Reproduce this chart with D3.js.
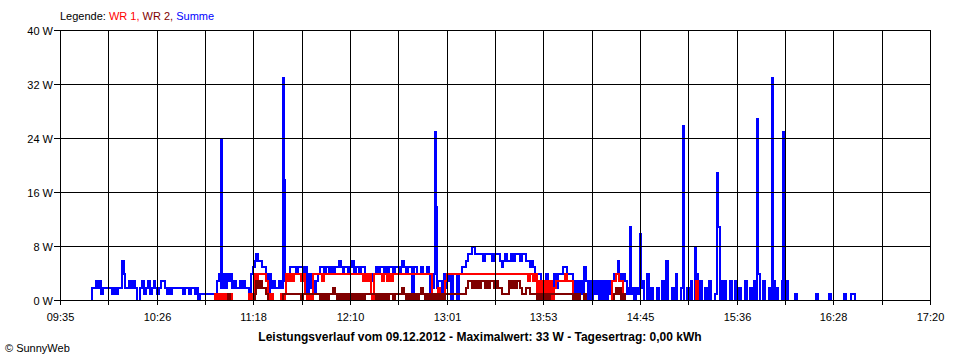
<!DOCTYPE html>
<html><head><meta charset="utf-8">
<script src="https://cdn.jsdelivr.net/npm/d3@7"></script>
<style>
body{margin:0;background:#fff;}
text{font-family:"Liberation Sans",Arial,sans-serif;}
</style>
</head><body>
<svg id="chart" width="960" height="360"></svg>
<script>
// ---------- data ----------
const dayStart = "09:35", dayEnd = "17:20";
const yTicks = [0, 8, 16, 24, 32, 40];
const yTickLabels = ["0 W", "8 W", "16 W", "24 W", "32 W", "40 W"];
const xTickLabels = ["09:35","10:26","11:18","12:10","13:01","13:53","14:45","15:36","16:28","17:20"];
const xGridDivisions = 18;

const legendParts = [
  {text: "Legende: ", color: "#000000"},
  {text: "WR 1, ", color: "#ff0000"},
  {text: "WR 2, ", color: "#800000"},
  {text: "Summe", color: "#0000ff"}
];
const titleText = "Leistungsverlauf vom 09.12.2012 - Maximalwert: 33 W - Tagesertrag: 0,00 kWh";
const copyrightText = "\u00A9 SunnyWeb";

// Summe (W), one value per minute starting at sumStart
const sumStart = "09:51";
const sumValues = [0,
  2,2,3,2,3,1, 2,2,2,2,2, 1,2,1,2,2, 6,4, 2,2,3,2,3,2, 0,0,
  2,3,1,2,3,1,2,3,2,1, 2,3,3,2,1,2,1,2,2,2,
  2,2,2,1,2,2,1,2,2,1,2, 0,
  1,1,1,1,1,1,1,1,1,
  3,4,2,4,2,4,3,4,2,3,2,2,3,2,3,2,2,
  0,4,5,6,7,6,6,5,5,4,0,4,2,3,2,2,3,2,2,3,
  3,4,5,5,5,4,5,5,5,4,5,1,4,2,3,1,3,4,5,
  5,4,5,5,4,5,4,5,5,6,5,4,5,5,4,5,6,4,5,5,4,5,5,4,
  4,3,4,3,4,
  5,4,5,5,4,5,4,5,5,4,5,5,4,
  5,6,5,4,5,
  5,0,5,5,4,4,5,4,4,5,4,0,
  2,4,2,3,3,1,4,2,3,4,0,4,4,0,4,4,
  5,5,6,7,7,8,8,7,
  7,7,7,6,7,7,7,7,6,7,7,7,
  6,5,6,7,6,6,7,6,
  7,7,7,6,7,7,6,6,5,6,
  5,4,4,4,
  0,3,1,4,0,3,0,4,2,
  4,4,4,5,5,4,4,4,
  3,0,3,0,3,1,
  5,
  3,0,3,0,3,1,3,0,3,0,3,0,3,1,
  3,4,4,6,4,3,4,3,1,
  2,
  1,2,0,2,1,
  2,
  3,0,0,4,0,2,0,0,2,0,
  0,3,0,6,0,0,2,0,4,0,
  0,2,0,0,2,0,3,0,0,4,
  0,3,0,0,2,0,3,0,0,1,
  0,0,3,0,3,0,0,3,0,0,
  3,0,2,0,0,3,0,0,2,0,
  3,0,4,0,0,3,0,0,2,0,
  3,0,2,0,0,3,0,3,0,0,
  0,0,1,0,0,0,0,0,0,0,
  0,0,0,1,0,0,0,0,0,0,
  1,0,0,0,0,0,0,0,1,0,
  0,0,1,1,0
];
// short peaks of the Summe series (start time, value, duration in seconds)
const sumPeakTimes = ["11:01:05","11:34:00","11:34:40","12:55:25","12:55:50","14:39:35","14:44:50",
  "15:07:55","15:14:20","15:25:55","15:26:25","15:26:55","15:47:25","15:47:55","15:55:30","16:01:25"];
const sumPeakValues = [24,33,18,25,14,11,10,26,8,14,19,11,27,15,33,25];
const sumPeakSeconds = [30,40,25,25,30,25,30,45,20,30,30,40,30,20,25,30];

// WR 1 (W), one value per minute starting at wr1Start
const wr1Start = "10:57";
const wr1Values = [0,
  1,0,1,0,1,0,1,0,1,0,
  0,0,0,0,0,0,0,0,
  1,0,1,
  4,3,4,4,4,4,3,
  1,0,1,
  0,0,0,0,
  1,0,1,
  4,3,4,3,4,4,4,4,3,4,
  1,0,1,0,
  4,4,4,4,4,
  3,
  4,4,4,4,4,4,4,4,4,4,4,4,4,4,4,4,4,4,4,4,4,
  3,4,3,4,
  1,0,
  4,4,4,4,
  3,4,4,3,4,3,
  4,4,4,4,4,4,4,4,4,4,4,4,4,4,4,4,4,4,4,4,4,
  0,1,0,2,0,1,0,3,
  4,4,4,4,4,4,4,4,4,4,4,4,4,4,4,4,4,4,4,4,4,4,4,4,4,4,4,4,4,4,4,4,4,4,4,4,4,4,4,4,4,4,4,
  3,4,4,3,4,
  0,3,0,3,0,3,0,3,0,2,
  3,3,3,3,3,4,3,3,3,
  0,1,0,
  0,0,0,0,0,0,0,0,0,0,0,0,0,0,0,0,0,0,
  3,3,4,4,3,3,
  0,0,0,0,0,0,0,0,0,0,0,0,0,0,0,0,0,0,0,0,0,0,0,0,0,0,0,0,0,0,0,0,0,0,0,0,0,0,0,
  3,0
];

// WR 2 (W), one value per minute starting at wr2Start
const wr2Start = "10:57";
const wr2Values = [0,
  0,0,0,0,0,0,0,
  1,0,
  0,0,0,0,0,0,0,0,0,0,0,0,
  1,3,2,3,2,2,1,0,
  0,0,0,0,0,0,0,
  1,1,1,1,1,1,1,1,1,1,
  0,
  1,1,1,1,1,1,1,1,1,
  0,1,0,1,0, 1,1,2,1,0, 1,0,1,0,1, 0,1,0,1,0, 1,0,1,0,1,
  1,1,1,1,1,
  0,1,0,1,0,1,0,1,1,0,1,1,1,1,2,1,
  0,1,0,1,0,1,0,1,2,1,0,1,0,1,0,1,0,1,0,1,0,1,
  1,1,1,1,1,1,1,1,1,1,
  2,3,3,2,3,2,3,2,3,3,2,3,2,3,3,2,3,2,2,
  1,1,1,1,
  3,2,3,2,3,3,2,
  1,1,
  2,2,
  1,1,1,1,
  0,1,0,1,0,1,0,1,
  1,1,1,1,1,1,1,1,1,1,1,
  0,1,0,1,0,0,1,0,
  0,0,0,0,0,0,0,0,0,0,0,0,0,0,
  1,2,1,2,0,1,0,
  0,0,0,0,0,0,0,0,0,0,0,0,0,0,0,0,0,0,0,0,0,0,0,0,0,0,0,0,0,0,0,0,0,0,0,0,0,0,0
];

// ---------- chart ----------
const svg = d3.select("#chart");
const parse = d3.timeParse("%H:%M");
const parseSec = d3.timeParse("%H:%M:%S");
const m = {left: 60, right: 930, top: 30, bottom: 300};

const x = d3.scaleTime().domain([parse(dayStart), parse(dayEnd)]).range([m.left, m.right]);
const y = d3.scaleLinear().domain([0, 40]).range([m.bottom, m.top]);

// build step points from per-minute values plus optional short peaks
function toPoints(start, values, peakTimes = [], peakValues = [], peakSeconds = []) {
  const t0 = +parse(start);
  const peaks = peakTimes.map((s, i) => ({a: +parseSec(s), b: +parseSec(s) + peakSeconds[i] * 1000, v: peakValues[i]}));
  const tEnd = t0 + values.length * 60000;
  const breaks = new Set();
  values.forEach((v, i) => breaks.add(t0 + i * 60000));
  breaks.add(tEnd);
  peaks.forEach(p => { breaks.add(p.a); breaks.add(p.b); });
  const valueAt = t => {
    const p = peaks.find(p => t >= p.a && t < p.b);
    if (p) return p.v;
    const idx = Math.min(values.length - 1, Math.floor((t - t0) / 60000));
    return values[idx];
  };
  return Array.from(breaks).sort((a, b) => a - b).map(t => ({t: new Date(t), v: valueAt(t)}));
}

const line = d3.line().x(d => x(d.t)).y(d => y(d.v)).curve(d3.curveStepAfter);

svg.append("defs").append("clipPath").attr("id", "plotclip")
  .append("rect").attr("x", m.left).attr("y", 0).attr("width", m.right - m.left).attr("height", m.bottom);

const dataG = svg.append("g").attr("clip-path", "url(#plotclip)")
  .append("g").attr("transform", "translate(0,1)");

const series = [
  {pts: toPoints(sumStart, sumValues, sumPeakTimes, sumPeakValues, sumPeakSeconds), color: "#0000ff"},
  {pts: toPoints(wr1Start, wr1Values), color: "#ff0000"},
  {pts: toPoints(wr2Start, wr2Values), color: "#800000"}
];
series.forEach(s => {
  dataG.append("path")
    .attr("d", line(s.pts))
    .attr("fill", "none")
    .attr("stroke", s.color)
    .attr("stroke-width", 2)
    .attr("shape-rendering", "crispEdges");
});

// grid and axes (drawn over the data)
const gridG = svg.append("g").attr("shape-rendering", "crispEdges");
const totalMs = parse(dayEnd) - parse(dayStart);
const xGridTimes = d3.range(xGridDivisions + 1).map(k => new Date(+parse(dayStart) + totalMs * k / xGridDivisions));

xGridTimes.forEach(t => {
  const px = Math.round(x(t)) + 0.5;
  gridG.append("line").attr("x1", px).attr("x2", px)
    .attr("y1", m.top).attr("y2", m.bottom + 5)
    .attr("stroke", "#000").attr("stroke-width", 1);
});
yTicks.forEach(v => {
  const py = Math.round(y(v)) + 0.5;
  gridG.append("line").attr("x1", m.left - 6).attr("x2", m.right + 0.5)
    .attr("y1", py).attr("y2", py)
    .attr("stroke", "#000").attr("stroke-width", 1);
});

// y labels
svg.append("g").selectAll("text").data(yTicks).join("text")
  .attr("x", 53).attr("y", d => Math.round(y(d)) + 4.5)
  .attr("text-anchor", "end").attr("font-size", 11).attr("fill", "#000")
  .text((d, i) => yTickLabels[i]);

// x labels
svg.append("g").selectAll("text").data(xTickLabels).join("text")
  .attr("x", (d, i) => Math.round(x(xGridTimes[i * 2])) + 0.5)
  .attr("y", 321)
  .attr("text-anchor", "middle").attr("font-size", 11).attr("fill", "#000")
  .text(d => d);

// legend
const leg = svg.append("text").attr("x", 60).attr("y", 20).attr("font-size", 11);
legendParts.forEach(p => leg.append("tspan").attr("fill", p.color).text(p.text));

// title
svg.append("text").attr("x", 480).attr("y", 341).attr("text-anchor", "middle")
  .attr("font-size", 12).attr("font-weight", "bold").attr("fill", "#000").text(titleText);

// copyright
svg.append("text").attr("x", 5).attr("y", 352).attr("font-size", 11).attr("fill", "#000").text(copyrightText);
</script>
</body></html>
